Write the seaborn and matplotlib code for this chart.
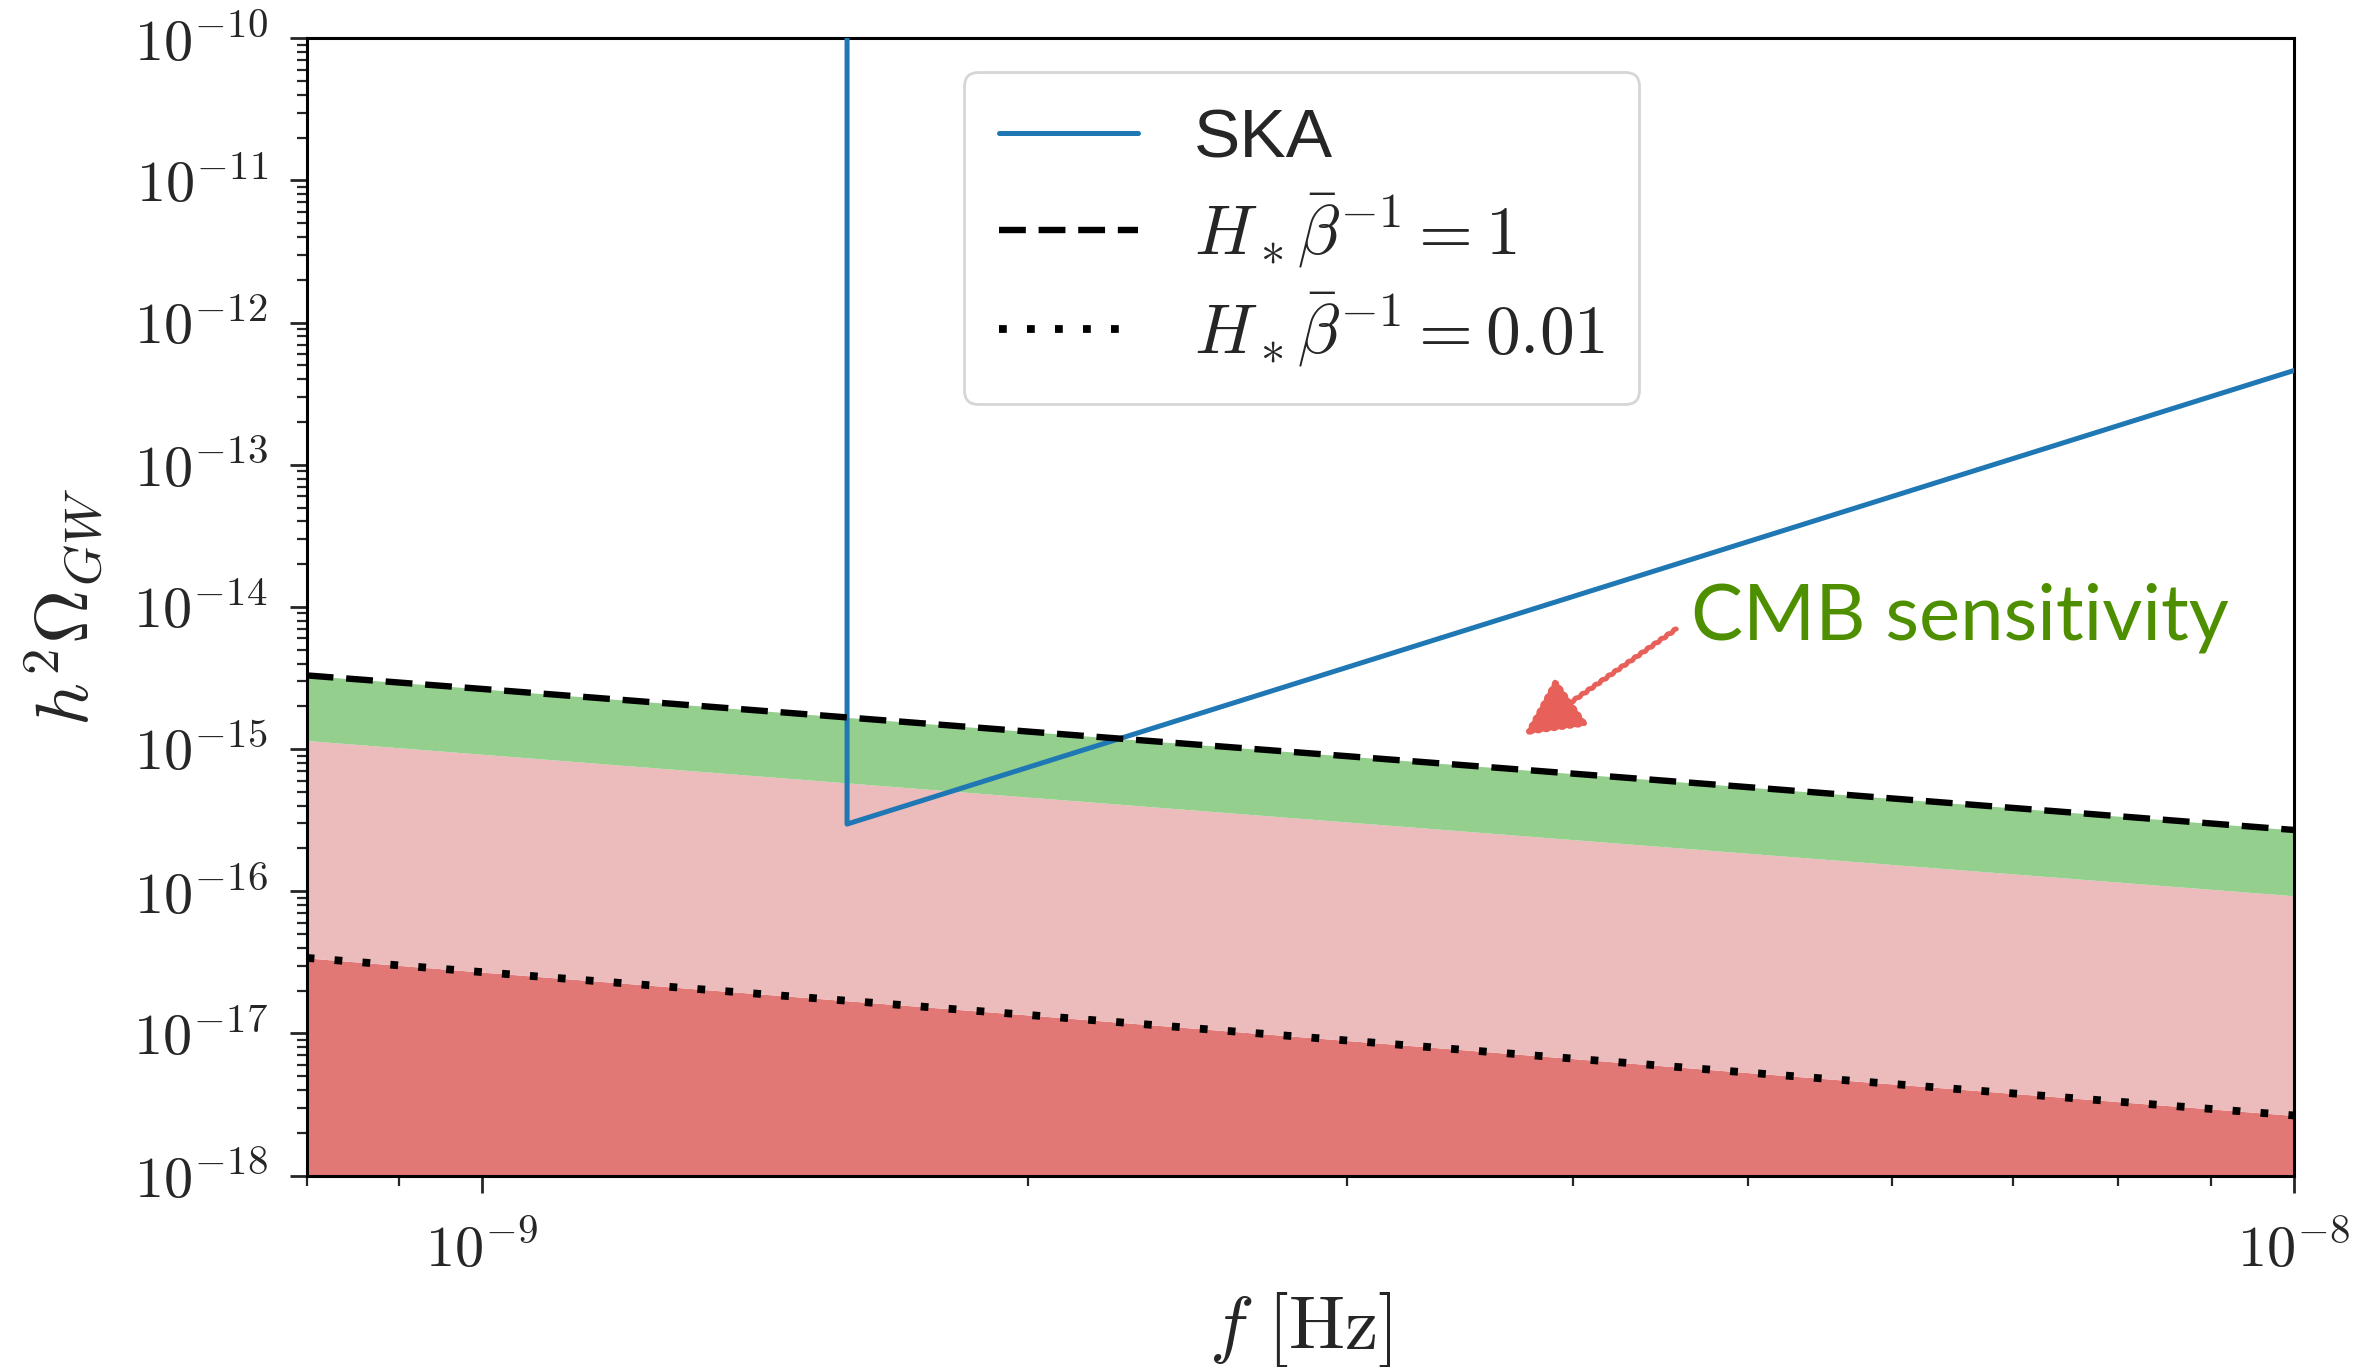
import numpy as np
import matplotlib
matplotlib.use("Agg")
import matplotlib.pyplot as plt
import matplotlib.ticker as mticker
import seaborn as sns

# ---- data ----
freq = [8.0e-10, 1.0e-9, 2.0e-9, 5.0e-9, 1.0e-8]
beta1 = [3.3e-15, 2.65e-15, 1.33e-15, 5.4e-16, 2.7e-16]        # H* beta^-1 = 1 (dashed)
cmb_lower = [1.15e-15, 9.2e-16, 4.6e-16, 1.85e-16, 9.3e-17]    # lower edge of green band
beta001 = [3.4e-17, 2.7e-17, 1.35e-17, 5.3e-18, 2.65e-18]      # H* beta^-1 = 0.01 (dotted)

ska_f = [1.59e-9, 1.59e-9, 1.0e-8]
ska_h = [1.0e-10, 2.97e-16, 4.6e-13]

xlim = (8.0e-10, 1.0e-8)
ylim = (1e-18, 1e-10)

sns.set_style("ticks")
plt.rcParams["font.family"] = ["Liberation Sans", "DejaVu Sans"]
plt.rcParams["mathtext.fontset"] = "cm"

fig, ax = plt.subplots(figsize=(2377 / 200, 1367 / 200), dpi=200)
fig.subplots_adjust(left=0.129, right=0.965, top=0.972, bottom=0.140)

ymin = [ylim[0]] * len(freq)
ax.fill_between(freq, ymin, beta001, color="#e27876", lw=0, zorder=1)
ax.fill_between(freq, beta001, cmb_lower, color="#ecbbbb", lw=0, zorder=1)
ax.fill_between(freq, cmb_lower, beta1, color="#94cf8e", lw=0, zorder=1)

sns.lineplot(x=ska_f, y=ska_h, ax=ax, sort=False, estimator=None,
             color="#1f77b4", lw=1.8, label="SKA", zorder=3)
sns.lineplot(x=freq, y=beta1, ax=ax, estimator=None, color="black",
             lw=2.3, linestyle=(0, (4.2, 2.0)), label=r"$H_*\bar\beta^{-1} = 1$", zorder=4)
sns.lineplot(x=freq, y=beta001, ax=ax, estimator=None, color="black",
             lw=2.8, linestyle=(0, (1, 2.6)), label=r"$H_*\bar\beta^{-1} = 0.01$", zorder=4)

ax.set_xscale("log")
ax.set_yscale("log")
ax.set_xlim(*xlim)
ax.set_ylim(*ylim)

def fmt(v, pos):
    if v <= 0:
        return ""
    e = int(round(np.log10(v)))
    return r"$10^{%d}$" % e

ax.xaxis.set_major_locator(mticker.LogLocator(base=10, numticks=20))
ax.yaxis.set_major_locator(mticker.LogLocator(base=10, numticks=20))
ax.xaxis.set_minor_locator(mticker.LogLocator(base=10, subs=np.arange(2, 10), numticks=50))
ax.yaxis.set_minor_locator(mticker.LogLocator(base=10, subs=np.arange(2, 10), numticks=50))
ax.xaxis.set_major_formatter(mticker.FuncFormatter(fmt))
ax.yaxis.set_major_formatter(mticker.FuncFormatter(fmt))
ax.xaxis.set_minor_formatter(mticker.NullFormatter())
ax.yaxis.set_minor_formatter(mticker.NullFormatter())

ax.tick_params(which="major", length=6, width=1.0, labelsize=21, pad=8, direction="out")
ax.tick_params(axis="x", which="major", pad=11)
ax.tick_params(which="minor", length=3.5, width=0.8, direction="out")
for s in ax.spines.values():
    s.set_visible(True)
    s.set_linewidth(1.1)
    s.set_color("black")

ax.set_xlabel(r"$f\ [\mathrm{Hz}]$", fontsize=27, labelpad=4)
ax.set_ylabel(r"$h^2\Omega_{GW}$", fontsize=27, labelpad=10)

leg = ax.legend(loc="upper left", bbox_to_anchor=(0.331, 0.97), borderaxespad=0,
                fontsize=25, frameon=True, fancybox=True, edgecolor="0.8",
                handlelength=2.0, labelspacing=0.3, borderpad=0.5)

ann = ax.annotate("CMB sensitivity", xy=(3.76e-9, 1.26e-15), xytext=(4.65e-9, 8.3e-15),
                  fontsize=28, color="#4e8f00", family="Lato", va="center", ha="left",
                  arrowprops=dict(arrowstyle="-|>", color="#e8605a", lw=1.8,
                                  mutation_scale=45, shrinkA=4, shrinkB=0,
                                  relpos=(0.0, 0.5)), zorder=6)
ann.arrow_patch.set_sketch_params(0.7, 8, 1)

fig.savefig("out.png", dpi=200)
